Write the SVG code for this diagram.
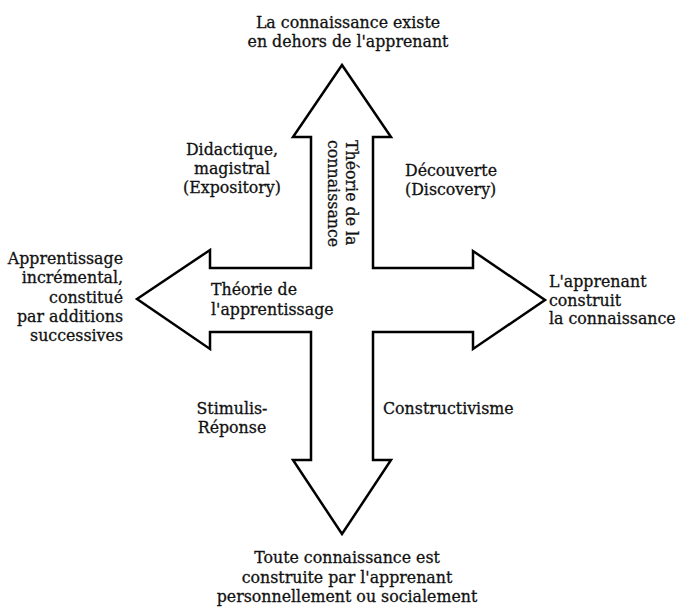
<svg xmlns="http://www.w3.org/2000/svg" width="686" height="607" viewBox="0 0 686 607">
<style>
  .t { font-family: "DejaVu Serif", "Liberation Serif", serif; font-size: 15.8px; fill: #111; stroke: #111; stroke-width: 0.3px; }
  .c { text-anchor: middle; }
  .e { text-anchor: end; }
  .arrow { fill: #fff; stroke: #000; stroke-width: 2.5; stroke-linejoin: miter; }
</style>
<rect width="686" height="607" fill="#fff"/>
<g id="connectors">
  <path class="arrow" d="M342,65 L391,137 L373,137 L373,268 L473,268 L473,251 L545,300 L473,349 L473,332 L373,332 L373,460 L391,460 L342,534 L293,460 L311,460 L311,332 L210,332 L210,349 L137,299 L210,250 L210,268 L311,268 L311,137 L293,137 Z"/>
</g>
<g id="top-pole">
  <text class="t c" x="348" y="27.5">La connaissance existe</text>
  <text class="t c" x="348" y="47">en dehors de l'apprenant</text>
</g>
<g id="bottom-pole">
  <text class="t c" x="347" y="563">Toute connaissance est</text>
  <text class="t c" x="347" y="582.5">construite par l'apprenant</text>
  <text class="t c" x="347" y="602">personnellement ou socialement</text>
</g>
<g id="left-pole">
  <text class="t e" x="123" y="264">Apprentissage</text>
  <text class="t e" x="123" y="283">incrémental,</text>
  <text class="t e" x="123" y="302.5">constitué</text>
  <text class="t e" x="123" y="321.5">par additions</text>
  <text class="t e" x="123" y="340.5">successives</text>
</g>
<g id="right-pole">
  <text class="t" x="549" y="287">L'apprenant</text>
  <text class="t" x="549" y="305.5">construit</text>
  <text class="t" x="549" y="324">la connaissance</text>
</g>
<g id="axis-knowledge">
  <text class="t" transform="translate(346,140) rotate(90)"><tspan x="0" y="0">Théorie de la</tspan><tspan x="0" y="18">connaissance</tspan></text>
</g>
<g id="axis-learning">
  <text class="t" x="211" y="295">Théorie de</text>
  <text class="t" x="211" y="314.5">l'apprentissage</text>
</g>
<g id="quadrant-didactique">
  <text class="t c" x="232" y="154.5">Didactique,</text>
  <text class="t c" x="232" y="173.5">magistral</text>
  <text class="t c" x="232" y="193">(Expository)</text>
</g>
<g id="quadrant-decouverte">
  <text class="t" x="405" y="176">Découverte</text>
  <text class="t" x="405" y="195">(Discovery)</text>
</g>
<g id="quadrant-stimulis">
  <text class="t c" x="232" y="413.5">Stimulis-</text>
  <text class="t c" x="232" y="433">Réponse</text>
</g>
<g id="quadrant-constructivisme">
  <text class="t" x="383" y="413.5">Constructivisme</text>
</g>
</svg>
